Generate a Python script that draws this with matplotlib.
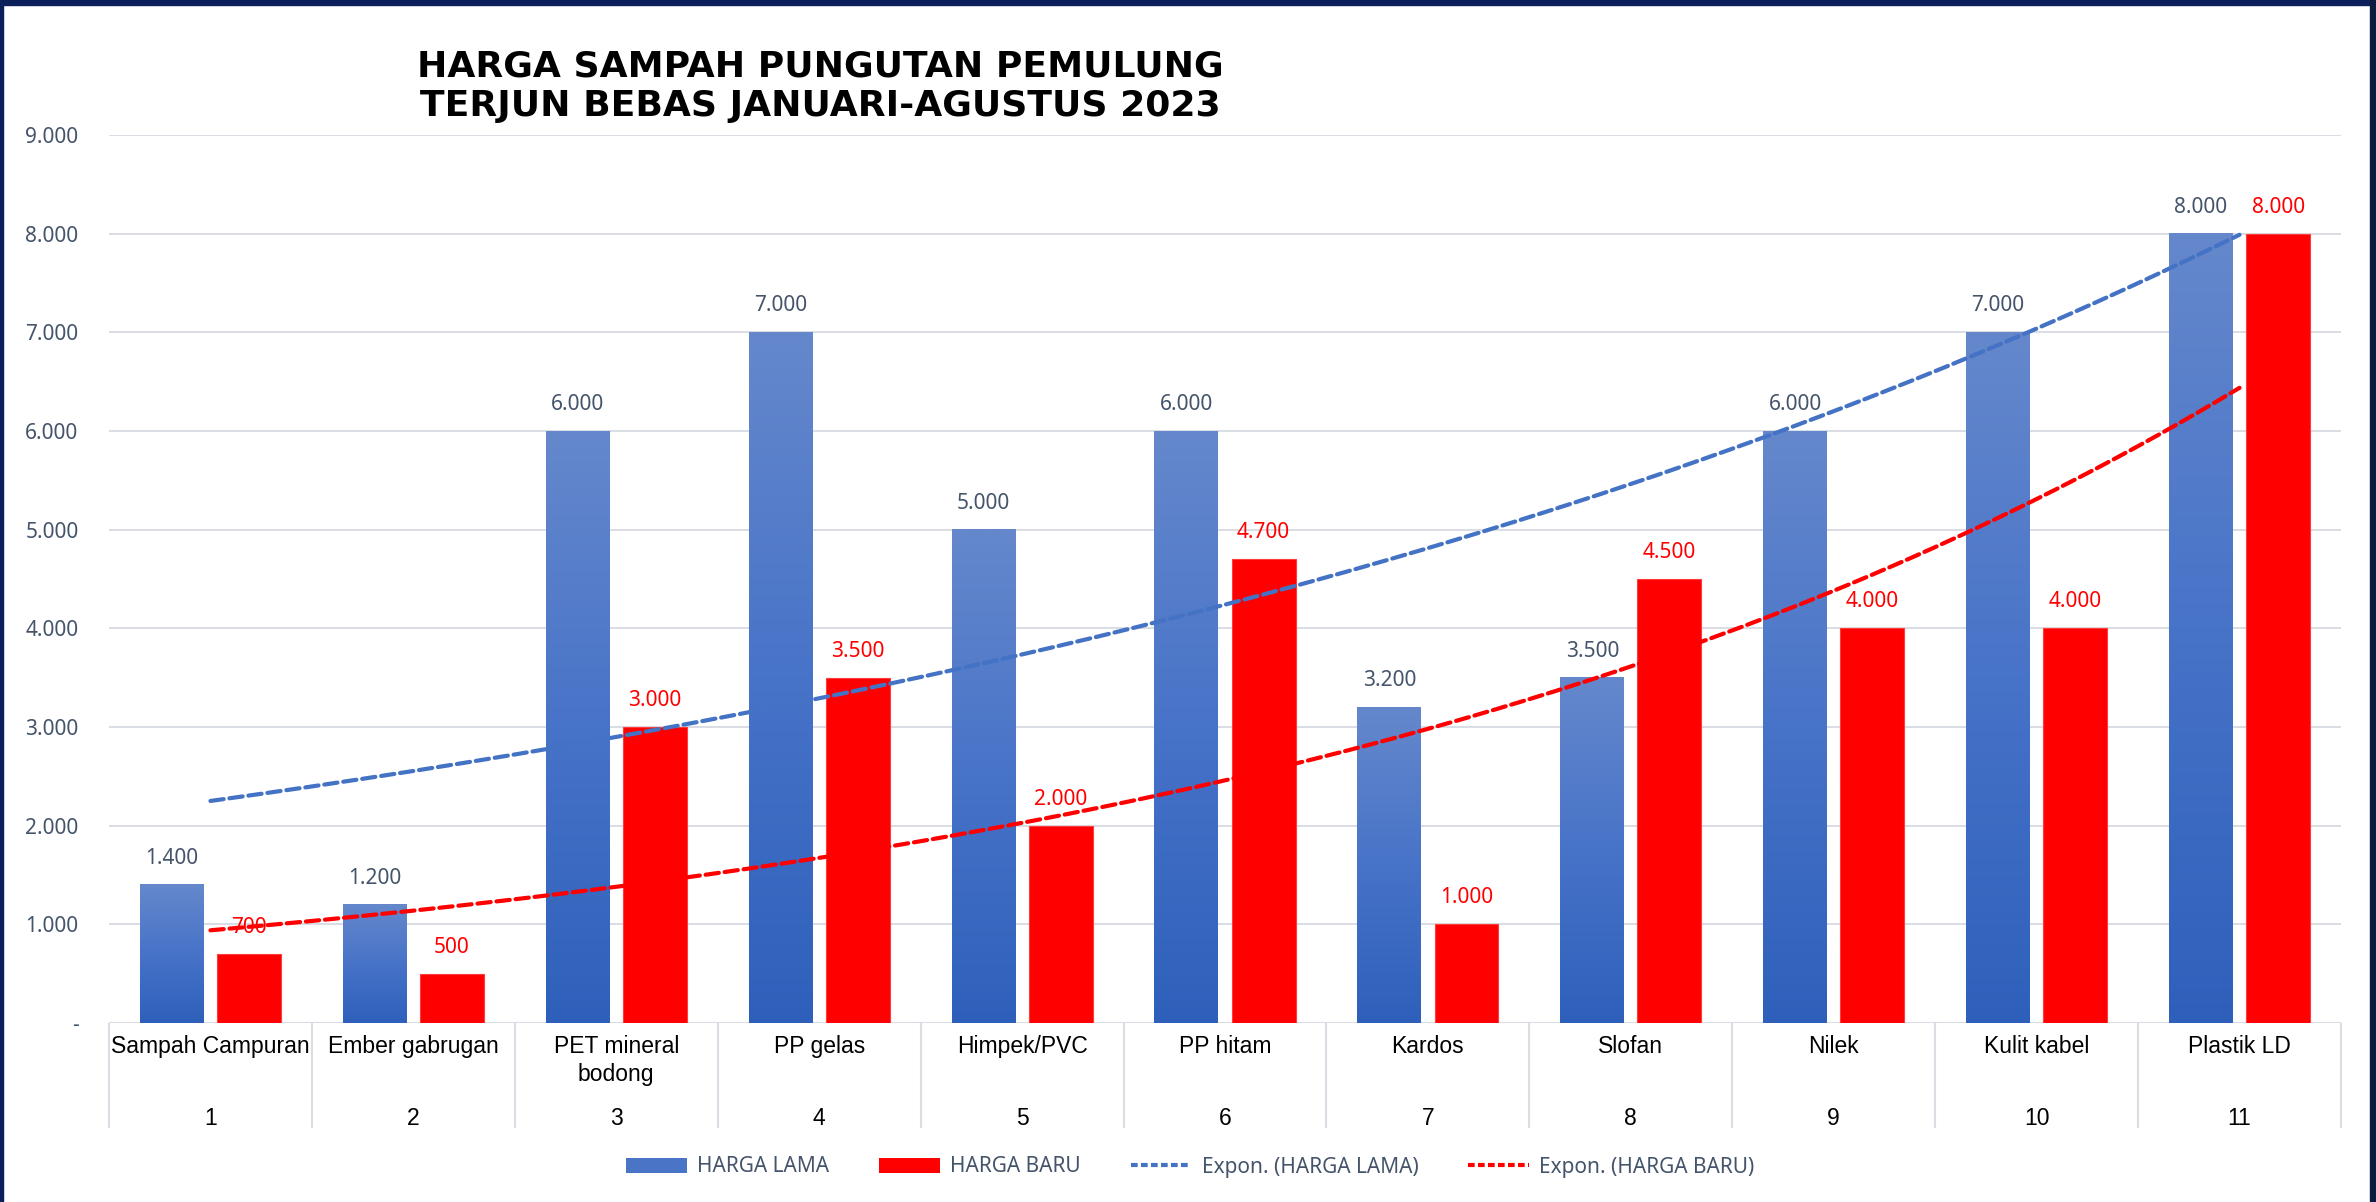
import numpy as np
import matplotlib
matplotlib.use("Agg")
import matplotlib.pyplot as plt
import matplotlib.transforms as mtransforms
from matplotlib.colors import LinearSegmentedColormap
from matplotlib.patches import Patch, Rectangle
from matplotlib.lines import Line2D

# data
categories = ["Sampah Campuran", "Ember gabrugan", "PET mineral\nbodong", "PP gelas",
              "Himpek/PVC", "PP hitam", "Kardos", "Slofan", "Nilek", "Kulit kabel",
              "Plastik LD"]
numbers = ["1", "2", "3", "4", "5", "6", "7", "8", "9", "10", "11"]
harga_lama = [1400, 1200, 6000, 7000, 5000, 6000, 3200, 3500, 6000, 7000, 8000]
harga_baru = [700, 500, 3000, 3500, 2000, 4700, 1000, 4500, 4000, 4000, 8000]

W, H = 2376, 1202
fig = plt.figure(figsize=(W / 100, H / 100), dpi=100)
ax = fig.add_axes([109 / W, (H - 1023) / H, (2341 - 109) / W, (1023 - 135) / H])

slate = "#44546a"
grid_c = "#d9dde4"
blue_cmap = LinearSegmentedColormap.from_list("lama", ["#2e60bb", "#4773c8", "#6588cc"])

x = np.arange(len(categories))
bw = 0.315
off = 0.19

# blue bars with a vertical gradient in each bar
bars_lama = ax.bar(x - off, harga_lama, bw, color="none", zorder=2)
grad = np.linspace(0, 1, 256).reshape(-1, 1)
for b in bars_lama:
    x0, w, h = b.get_x(), b.get_width(), b.get_height()
    ax.imshow(grad, cmap=blue_cmap, origin="lower", aspect="auto",
              extent=(x0, x0 + w, 0, h), zorder=2)

bars_baru = ax.bar(x + off, harga_baru, bw, color="#ff0000", edgecolor="#ff3b3b",
                   linewidth=0.8, zorder=2)

ax.set_xlim(-0.5, len(categories) - 0.5)
ax.set_ylim(0, 9000)


def fmt(v):
    return "-" if v == 0 else f"{v:,}".replace(",", ".")


# value labels
for b, v in zip(bars_lama, harga_lama):
    ax.annotate(fmt(v), (b.get_x() + b.get_width() / 2, v), xytext=(0, 19),
                textcoords="offset points", ha="center", va="center",
                fontsize=15, color=slate, family="Noto Sans", zorder=4)
for b, v in zip(bars_baru, harga_baru):
    ax.annotate(fmt(v), (b.get_x() + b.get_width() / 2, v), xytext=(0, 19),
                textcoords="offset points", ha="center", va="center",
                fontsize=15, color="#ff0000", family="Noto Sans", zorder=4)

# exponential trendlines (Excel style fit on ln y)
n = np.arange(1, len(categories) + 1)
xs = np.linspace(1, len(categories), 200)
for vals, col in [(harga_lama, "#4472c4"), (harga_baru, "#ff0000")]:
    b1, b0 = np.polyfit(n, np.log(vals), 1)
    ax.plot(xs - 1, np.exp(b0 + b1 * xs), color=col, lw=3, ls=(0, (3.2, 1.4)),
            dash_capstyle="round", zorder=3)

# axes styling
for s in ax.spines.values():
    s.set_visible(False)
ax.set_yticks(range(0, 9001, 1000))
ax.set_yticklabels([fmt(v) for v in range(0, 9001, 1000)], fontsize=15,
                   color=slate, family="Noto Sans")
ax.tick_params(axis="y", length=0, pad=22)
ax.set_xticks([])
ax.yaxis.grid(True, color=grid_c, lw=1.4)
ax.set_axisbelow(True)

# two-level category axis
trans = mtransforms.blended_transform_factory(ax.transData, ax.transAxes)
ax.vlines(np.arange(len(categories) + 1) - 0.5, -0.118, 0, transform=trans,
          color=grid_c, lw=1.5, clip_on=False)
ax.axhline(0, color=grid_c, lw=1.5, zorder=1)
for i, (c, num) in enumerate(zip(categories, numbers)):
    ax.text(i, -0.0135, c, transform=trans, ha="center", va="top", fontsize=16.5,
            family="Liberation Sans", color="black", linespacing=1.3, clip_on=False)
    ax.text(i, -0.107, num, transform=trans, ha="center", va="center", fontsize=16.5,
            family="Liberation Sans", color="black", clip_on=False)

# title
fig.text(820 / W, 1 - 86 / H, "HARGA SAMPAH PUNGUTAN PEMULUNG\nTERJUN BEBAS JANUARI-AGUSTUS 2023",
         ha="center", va="center", fontsize=26, fontweight="bold", family="DejaVu Sans",
         linespacing=1.22, color="black")

# legend
handles = [Patch(facecolor="#4a74c6", label="HARGA LAMA"),
           Patch(facecolor="#ff0000", label="HARGA BARU"),
           Line2D([0], [0], color="#4472c4", lw=3, ls=(0, (1.6, 0.8)), label="Expon. (HARGA LAMA)"),
           Line2D([0], [0], color="#ff0000", lw=3, ls=(0, (1.6, 0.8)), label="Expon. (HARGA BARU)")]
leg = fig.legend(handles=handles, loc="center", bbox_to_anchor=(0.501, 1 - 1167 / H),
                 ncol=4, frameon=False, handlelength=2.9, handleheight=0.7,
                 handletextpad=0.5, columnspacing=2.4, labelcolor=slate,
                 prop={"family": "Noto Sans", "size": 15})

# dark frame around the picture
fig.patches.append(Rectangle((0, 1 - 5 / H), 1, 5 / H, transform=fig.transFigure,
                             color="#0b1f5a", zorder=10))
fig.patches.append(Rectangle((0, 0), 3 / W, 1, transform=fig.transFigure,
                             color="#0b1f5a", zorder=10))
fig.patches.append(Rectangle((1 - 6 / W, 0), 6 / W, 1, transform=fig.transFigure,
                             color="#0a1a40", zorder=10))

fig.savefig("out.png", dpi=100, facecolor="white")
